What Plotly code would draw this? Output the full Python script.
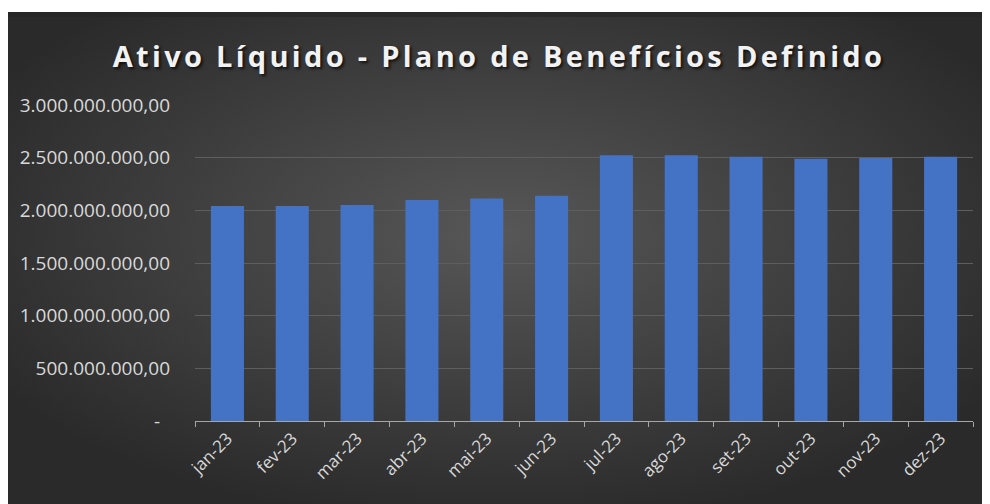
import base64
import plotly.graph_objects as go

# monthly net assets (R$)
meses = ["jan-23", "fev-23", "mar-23", "abr-23", "mai-23", "jun-23",
         "jul-23", "ago-23", "set-23", "out-23", "nov-23", "dez-23"]
ativo_liquido = [2.040e9, 2.040e9, 2.050e9, 2.097e9, 2.113e9, 2.138e9,
                 2.524e9, 2.524e9, 2.508e9, 2.489e9, 2.498e9, 2.508e9]

y_ticks = [0, 0.5e9, 1.0e9, 1.5e9, 2.0e9, 2.5e9, 3.0e9]
y_labels = ["-\u00a0\u00a0", "500.000.000,00", "1.000.000.000,00", "1.500.000.000,00",
            "2.000.000.000,00", "2.500.000.000,00", "3.000.000.000,00"]

# page body adds 8px, so the figure itself is a bit smaller than the window
W, H = 982, 496
L, R, T, B = 187, 17, 97, 83

# dark radial background like the Excel chart style
svg = """<svg xmlns='http://www.w3.org/2000/svg' width='982' height='492' preserveAspectRatio='none'>
<defs><radialGradient id='g' cx='50%' cy='45%' r='60%'>
<stop offset='0%' stop-color='#575757'/><stop offset='100%' stop-color='#2a2a2a'/>
</radialGradient></defs>
<rect width='982' height='492' fill='url(#g)'/>
<rect width='982' height='5' fill='#262626' opacity='0.7'/>
</svg>"""
bg_src = "data:image/svg+xml;base64," + base64.b64encode(svg.encode()).decode()

pw, ph = W - L - R, H - T - B

fig = go.Figure()
fig.add_trace(go.Bar(
    x=meses, y=ativo_liquido,
    marker=dict(color="#4472c4", line=dict(width=0)),
    width=0.51,
    hoverinfo="x+y",
))

fig.add_layout_image(dict(
    source=bg_src, xref="paper", yref="paper",
    x=-L / pw, y=1 + (T - 4) / ph,
    sizex=W / pw, sizey=(H - 4) / ph,
    sizing="stretch", xanchor="left", yanchor="top", layer="below",
))

fig.update_layout(
    width=W, height=H,
    margin=dict(l=L, r=R, t=T, b=B),
    paper_bgcolor="white",
    plot_bgcolor="rgba(0,0,0,0)",
    showlegend=False,
    bargap=0.49,
    title=dict(
        text="<span style='letter-spacing:3.3px'>Ativo Líquido - Plano de Benefícios Definido</span>",
        x=0.5, xref="container", xanchor="center",
        y=1 - 49 / H, yref="container", yanchor="middle",
        font=dict(family="Open Sans", size=29, color="#f2f2f2", weight="bold",
                  shadow="2px 2px 3px rgba(0,0,0,0.7)"),
    ),
    font=dict(family="Open Sans", color="#d9d9d9"),
)

fig.update_xaxes(
    type="category",
    tickangle=-45,
    tickfont=dict(size=17, color="#d9d9d9"),
    showline=True, linecolor="#a6a6a6", linewidth=1,
    ticks="outside", ticklen=5, tickcolor="#a6a6a6",
    tickson="boundaries",
    showgrid=False,
)
fig.update_yaxes(
    range=[0, 3.0e9],
    tickvals=y_ticks, ticktext=y_labels,
    tickfont=dict(size=19, color="#d9d9d9"),
    showgrid=True, gridcolor="#5e5e5e", gridwidth=1,
    zeroline=False,
    ticks="", ticklabelstandoff=24,
)

fig.write_html("out.html")
